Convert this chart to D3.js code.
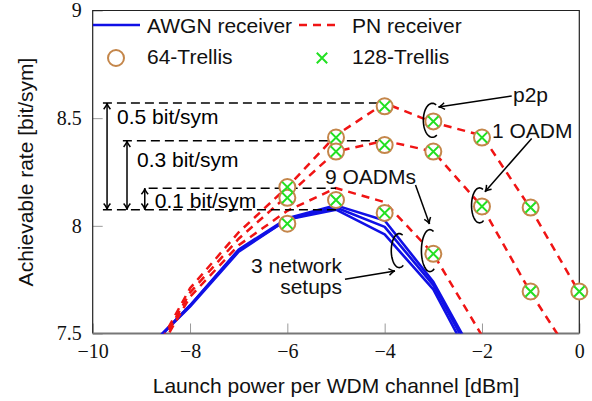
<!DOCTYPE html>
<html>
<head>
<meta charset="utf-8">
<script src="https://cdn.jsdelivr.net/npm/d3@7"></script>
<style>
  html, body { margin: 0; padding: 0; background: #fff; }
  svg { display: block; }
  .sans { font-family: "Liberation Sans", Arial, Helvetica, sans-serif; }
  .serif { font-family: "Liberation Serif", "Times New Roman", serif; }
</style>
</head>
<body>
<script>
// ---------------- data ----------------
const awgnX      = [-9, -8, -7, -6, -5, -4, -3, -2];
const awgnP2p    = [7.40, 7.63, 7.89, 8.035, 8.095, 8.025, 7.74, 7.33];
const awgn1Oadm  = [7.40, 7.63, 7.885, 8.03, 8.085, 7.995, 7.725, 7.31];
const awgn9Oadms = [7.40, 7.625, 7.88, 8.03, 8.075, 7.96, 7.705, 7.28];

const pnX        = [-9, -8, -7, -6, -5, -4, -3, -2, -1, 0];
const pnP2p      = [7.30, 7.71, 7.97, 8.18, 8.42, 8.57, 8.48, 8.42, 8.08, 7.69];
const pn1Oadm    = [7.29, 7.69, 7.94, 8.14, 8.345, 8.395, 8.345, 8.09, 7.69, 7.34];
const pn9OadmsX  = [-9, -8, -7, -6, -5, -4, -3, -2];
const pn9Oadms   = [7.28, 7.67, 7.91, 8.07, 8.175, 8.11, 7.87, 7.49];

const trellisP2pX    = [-6, -5, -4, -3, -2, -1, 0];
const trellis64P2p   = [8.18, 8.41, 8.555, 8.485, 8.41, 8.085, 7.695];
const trellis128P2p  = [8.18, 8.41, 8.555, 8.485, 8.41, 8.085, 7.695];
const trellis1OadmX  = [-6, -5, -4, -3, -2, -1];
const trellis64_1Oadm  = [8.13, 8.345, 8.375, 8.345, 8.09, 7.695];
const trellis128_1Oadm = [8.13, 8.345, 8.375, 8.345, 8.09, 7.695];
const trellis9OadmsX   = [-6, -5, -4, -3];
const trellis64_9Oadms  = [8.01, 8.12, 8.06, 7.87];
const trellis128_9Oadms = [8.01, 8.12, 8.06, 7.87];

const xTicks = [-10, -8, -6, -4, -2, 0];
const xTickLabels = ["\u221210", "\u22128", "\u22126", "\u22124", "\u22122", "0"];
const yTicks = [7.5, 8, 8.5, 9];
const yTickLabels = ["7.5", "8", "8.5", "9"];

const legendLabels = ["AWGN receiver", "PN receiver", "64-Trellis", "128-Trellis"];
const gainLevels = [8.57, 8.395, 8.175, 8.075];       // reference levels for the gain brackets
const gainLabels = ["0.5 bit/sym", "0.3 bit/sym", "0.1 bit/sym"];

// ---------------- setup ----------------
const W = 592, H = 401;
const L = 92.7, R = 579.3, T = 10.5, B = 333.5;
const svg = d3.select("body").append("svg").attr("width", W).attr("height", H);

const x = d3.scaleLinear().domain([-10, 0]).range([L, R]);
const y = d3.scaleLinear().domain([7.5, 9]).range([B, T]);

svg.append("defs").append("clipPath").attr("id", "clip")
  .append("rect").attr("x", L).attr("y", T).attr("width", R - L).attr("height", B - T);

const blue = "#1010e6", red = "#f01414", brown = "#c4864a", green = "#22e022";

// axes
const xAxis = d3.axisBottom(x).tickValues(xTicks).tickSize(-10).tickPadding(10.5)
  .tickFormat((d, i) => xTickLabels[i]);
const gx = svg.append("g").attr("transform", `translate(0,${B})`).call(xAxis);
gx.select(".domain").remove();
gx.selectAll(".tick line").attr("stroke", "#9a9a9a").attr("stroke-width", 1);
gx.selectAll(".tick text").attr("class", "serif").attr("font-size", 20).attr("fill", "#111");

const yAxis = d3.axisLeft(y).tickValues(yTicks).tickSize(-10).tickPadding(11)
  .tickFormat((d, i) => yTickLabels[i]);
const gy = svg.append("g").attr("transform", `translate(${L},0)`).call(yAxis);
gy.select(".domain").remove();
gy.selectAll(".tick line").attr("stroke", "#9a9a9a").attr("stroke-width", 1);
gy.selectAll(".tick text").attr("class", "serif").attr("font-size", 20).attr("fill", "#111");

// frame
svg.append("path").attr("d", `M${L},${B}V${T}H${R}V${B}`)
  .attr("fill", "none").attr("stroke", "#222").attr("stroke-width", 1.2);
svg.append("line").attr("x1", L).attr("x2", R).attr("y1", B).attr("y2", B)
  .attr("stroke", "#777").attr("stroke-width", 2);

// axis labels
svg.append("text").attr("class", "sans").attr("x", (L + R) / 2).attr("y", 393)
  .attr("text-anchor", "middle").attr("font-size", 21).attr("fill", "#111")
  .text("Launch power per WDM channel [dBm]");
svg.append("text").attr("class", "sans")
  .attr("transform", `translate(33,${(T + B) / 2}) rotate(-90)`)
  .attr("text-anchor", "middle").attr("font-size", 21).attr("fill", "#111")
  .text("Achievable rate [bit/sym]");

// ---------------- curves ----------------
const plot = svg.append("g").attr("clip-path", "url(#clip)");
const line = d3.line().x(d => x(d[0])).y(d => y(d[1]));
const zip = (xs, ys) => xs.map((v, i) => [v, ys[i]]);

[awgnP2p, awgn1Oadm, awgn9Oadms].forEach(s => {
  plot.append("path").datum(zip(awgnX, s)).attr("d", line)
    .attr("fill", "none").attr("stroke", blue).attr("stroke-width", 2.6)
    .attr("stroke-linejoin", "round");
});
[[pnX, pnP2p], [pnX, pn1Oadm], [pn9OadmsX, pn9Oadms]].forEach(([xs, s]) => {
  plot.append("path").datum(zip(xs, s)).attr("d", line)
    .attr("fill", "none").attr("stroke", red).attr("stroke-width", 2.5)
    .attr("stroke-dasharray", "8,6");
});

// ---------------- gain annotations ----------------
const ann = svg.append("g");
const dash = (x1, x2, lvl) => ann.append("line")
  .attr("x1", x(x1)).attr("x2", x(x2)).attr("y1", y(lvl)).attr("y2", y(lvl))
  .attr("stroke", "#000").attr("stroke-width", 1.5).attr("stroke-dasharray", "9,5");
dash(-9.79, -4, gainLevels[0]);
dash(-9.38, -4, gainLevels[1]);
dash(-8.85, -5, gainLevels[2]);
dash(-9.79, -5, gainLevels[3]);

function head(g, x1, y1, x2, y2, size = 7) {
  const a = Math.atan2(y2 - y1, x2 - x1);
  const p = d3.path();
  const s = 0.5;
  p.moveTo(x2 - size * Math.cos(a - s), y2 - size * Math.sin(a - s));
  p.quadraticCurveTo(x2 - 2 * Math.cos(a), y2 - 2 * Math.sin(a), x2, y2);
  p.quadraticCurveTo(x2 - 2 * Math.cos(a), y2 - 2 * Math.sin(a),
    x2 - size * Math.cos(a + s), y2 - size * Math.sin(a + s));
  g.append("path").attr("d", p.toString()).attr("fill", "none")
    .attr("stroke", "#000").attr("stroke-width", 1.5);
}
function arrow(g, x1, y1, x2, y2, both) {
  g.append("line").attr("x1", x1).attr("y1", y1).attr("x2", x2).attr("y2", y2)
    .attr("stroke", "#000").attr("stroke-width", 1.5);
  head(g, x1, y1, x2, y2);
  if (both) head(g, x2, y2, x1, y1);
}
const bracketX = [-9.705, -9.295, -8.93];
[0, 1, 2].forEach(i => {
  arrow(ann, x(bracketX[i]), y(gainLevels[3]), x(bracketX[i]), y(gainLevels[i]), true);
});
ann.append("text").attr("class", "sans").attr("font-size", 21)
  .attr("x", x(bracketX[0]) + 10).attr("y", 124).text(gainLabels[0]);
ann.append("text").attr("class", "sans").attr("font-size", 21)
  .attr("x", x(bracketX[1]) + 10).attr("y", 167).text(gainLabels[1]);
ann.append("text").attr("class", "sans").attr("font-size", 21)
  .attr("x", x(bracketX[2]) + 10).attr("y", 208).text(gainLabels[2]);

// ---------------- ellipse arcs + labelled arrows ----------------
function cArc(cx, cy, rx, ry, a0, a1) {
  const pts = d3.range(a0, a1 + 0.1, 5).map(t => {
    const r = t * Math.PI / 180;
    return [cx + rx * Math.cos(r), cy - ry * Math.sin(r)];
  });
  ann.append("path").attr("d", d3.line()(pts)).attr("fill", "none")
    .attr("stroke", "#000").attr("stroke-width", 1.6);
}
cArc(x(-3.02), y(8.49), 9, 17, 65, 300);      // p2p
cArc(x(-2.05), y(8.095), 8, 17.5, 65, 300);   // 1 OADM
cArc(x(-3.07), y(7.885), 8.5, 21, 65, 300);   // 9 OADMs
cArc(x(-3.70), y(7.885), 8, 17, 65, 300);     // 3 network setups

arrow(ann, 511.7, 96, 438.5, 107, false);
arrow(ann, 531.7, 138.5, 485, 191.7, false);
arrow(ann, 415.5, 185, 429.5, 224, false);
arrow(ann, 345, 279.3, 395, 271, false);

const label = (tx, ty, t, anchor = "start") => ann.append("text").attr("class", "sans")
  .attr("font-size", 21).attr("x", tx).attr("y", ty).attr("text-anchor", anchor).attr("fill", "#111").text(t);
label(513, 102, "p2p");
label(492, 137.5, "1 OADM");
label(325, 184, "9 OADMs");
label(342, 272.7, "3 network", "end");
label(342, 294, "setups", "end");

// ---------------- markers ----------------
const mk = svg.append("g");
function circleM(cx, cy) {
  mk.append("circle").attr("cx", cx).attr("cy", cy).attr("r", 8)
    .attr("fill", "#fff").attr("stroke", brown).attr("stroke-width", 2);
}
function crossM(cx, cy) {
  const s = 5.2;
  mk.append("path").attr("d", `M${cx - s},${cy - s}L${cx + s},${cy + s}M${cx - s},${cy + s}L${cx + s},${cy - s}`)
    .attr("stroke", green).attr("stroke-width", 2).attr("fill", "none");
}
[[trellisP2pX, trellis64P2p], [trellis1OadmX, trellis64_1Oadm], [trellis9OadmsX, trellis64_9Oadms]]
  .forEach(([xs, ys]) => xs.forEach((v, i) => circleM(x(v), y(ys[i]))));
[[trellisP2pX, trellis128P2p], [trellis1OadmX, trellis128_1Oadm], [trellis9OadmsX, trellis128_9Oadms]]
  .forEach(([xs, ys]) => xs.forEach((v, i) => crossM(x(v), y(ys[i]))));

// ---------------- legend ----------------
const lg = svg.append("g");
lg.append("line").attr("x1", 93).attr("x2", 140).attr("y1", 25).attr("y2", 25)
  .attr("stroke", blue).attr("stroke-width", 2.6);
lg.append("line").attr("x1", 299).attr("x2", 339).attr("y1", 25).attr("y2", 25)
  .attr("stroke", red).attr("stroke-width", 2.5).attr("stroke-dasharray", "8,6");
circleM(116, 58);
crossM(322, 58);
[[147, 32.5, 0], [352, 32.5, 1], [147, 64, 2], [352, 64, 3]].forEach(([tx, ty, i]) => {
  lg.append("text").attr("class", "sans").attr("font-size", 21).attr("x", tx).attr("y", ty)
    .attr("fill", "#111").text(legendLabels[i]);
});
</script>
</body>
</html>
